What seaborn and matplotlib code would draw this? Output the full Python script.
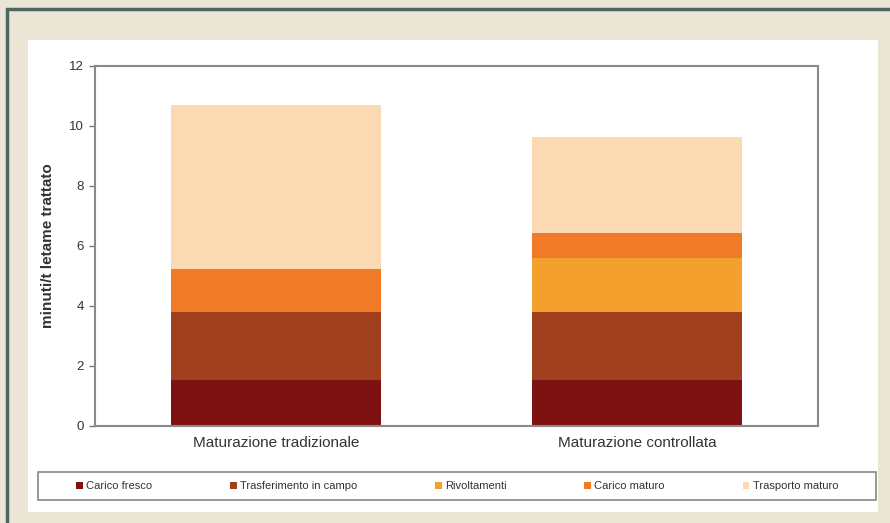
import matplotlib
matplotlib.use("Agg")
import matplotlib.pyplot as plt
from matplotlib.patches import Rectangle, Patch
from matplotlib.lines import Line2D
import seaborn as sns
import pandas as pd
import numpy as np

categories = ["Maturazione tradizionale", "Maturazione controllata"]
series = ["Carico fresco", "Trasferimento in campo", "Rivoltamenti", "Carico maturo", "Trasporto maturo"]
carico_fresco = [1.55, 1.55]
trasferimento = [2.25, 2.25]
rivoltamenti = [0.0, 1.8]
carico_maturo = [1.45, 0.85]
trasporto_maturo = [5.45, 3.2]
colors = ["#7e1212", "#a0401f", "#f4a02e", "#f07a28", "#fbdab3"]
yticks = [0, 2, 4, 6, 8, 10, 12]

sns.set_style("white")
plt.rcParams['font.family'] = ['Liberation Sans', 'DejaVu Sans']

values = [carico_fresco, trasferimento, rivoltamenti, carico_maturo, trasporto_maturo]
cum = np.cumsum(np.array(values), axis=0)

fig = plt.figure(figsize=(8.9, 5.23), dpi=100, facecolor="#ebe5d6")
# white panel
fig.patches.append(Rectangle((28/890, 1-512/523), 850/890, 472/523,
                             transform=fig.transFigure, facecolor="white", edgecolor="none", zorder=-5))
# legend frame
fig.patches.append(Rectangle((38/890, 1-500/523), 838/890, 28/523,
                             transform=fig.transFigure, facecolor="white", edgecolor="#888888",
                             linewidth=1.2, zorder=-4))
# dark border lines (top and left)
fig.lines.append(Line2D([7/890, 1], [1-9/523, 1-9/523], transform=fig.transFigure, color="#4e6660", lw=2.5))
fig.lines.append(Line2D([7/890, 7/890], [0, 1-9/523], transform=fig.transFigure, color="#4e6660", lw=2.5))

ax = fig.add_axes([95/890, 1-426/523, 723/890, 360/523])
ax.set_zorder(2)
ax.set_facecolor("white")

for i in range(len(series) - 1, -1, -1):
    df = pd.DataFrame({"cat": categories, "val": cum[i]})
    sns.barplot(data=df, x="cat", y="val", color=colors[i], width=0.58,
                saturation=1, ax=ax, edgecolor="none", linewidth=0, zorder=2)

ax.set_ylim(0, 12)
ax.set_xlim(-0.5, 1.5)
ax.set_yticks(yticks)
ax.set_yticklabels([str(t) for t in yticks], fontsize=9.5, color="#333333")
ax.tick_params(axis="y", length=4, width=1, color="#777777", left=True, pad=4)
ax.tick_params(axis="x", length=0, labelsize=11, colors="#333333", pad=7)
for s in ax.spines.values():
    s.set_color("#8a8a8a")
    s.set_linewidth(1.5)
ax.set_xlabel("")
ax.set_ylabel("minuti/t letame trattato", fontsize=11, fontweight="bold", color="#333333", labelpad=10)

handles = [Patch(facecolor=c, edgecolor="none") for c in colors]
leg = fig.legend(handles, series, loc="center", ncol=5,
                 bbox_to_anchor=(457/890, 1-486/523),
                 fontsize=8, frameon=False, handlelength=0.6, handleheight=0.6,
                 handletextpad=0.3, columnspacing=7.0, borderaxespad=0)
for t in leg.get_texts():
    t.set_color("#333333")

fig.savefig("out.png", dpi=100, facecolor=fig.get_facecolor())
